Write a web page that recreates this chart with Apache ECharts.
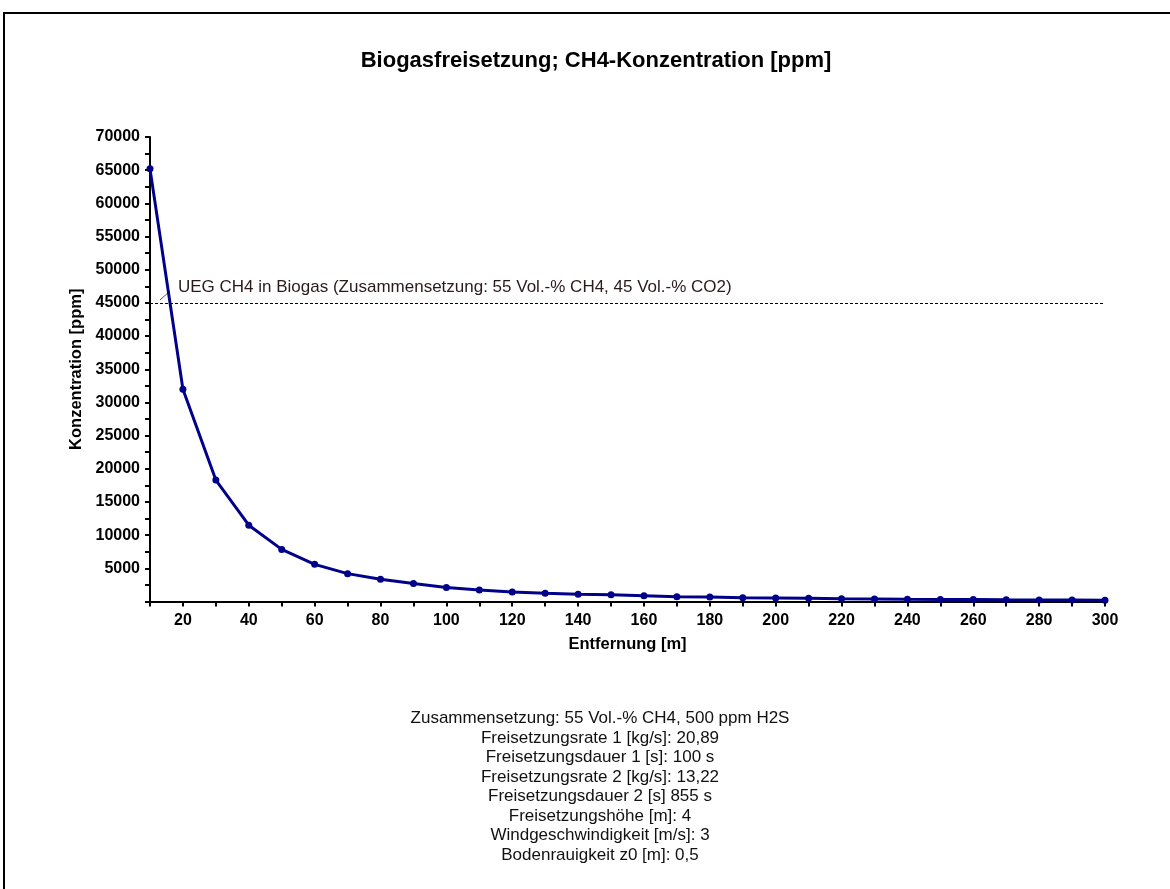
<!DOCTYPE html>
<html>
<head>
<meta charset="utf-8">
<script src="https://cdn.jsdelivr.net/npm/echarts@6/dist/echarts.min.js"></script>
<style>
  html, body { margin: 0; padding: 0; background: #fff; }
  #chart { width: 1170px; height: 889px; }
</style>
</head>
<body>
<div id="chart"></div>
<script>
// Entfernung [m]
const distances = [10, 20, 30, 40, 50, 60, 70, 80, 90, 100, 110, 120, 130, 140, 150,
  160, 170, 180, 190, 200, 210, 220, 230, 240, 250, 260, 270, 280, 290, 300]
// CH4-Konzentration [ppm]
const concentration = [65200, 32000, 18300, 11500, 7850, 5600, 4200, 3350, 2700, 2100,
  1750, 1450, 1250, 1100, 1000, 880, 700, 680, 560, 530, 480, 400, 370, 340, 320, 300,
  260, 240, 220, 200]
const uegValue = 45000
const uegLabel = 'UEG CH4 in Biogas (Zusammensetzung: 55 Vol.-% CH4, 45 Vol.-% CO2)'
const infoLines = [
  'Zusammensetzung: 55 Vol.-% CH4, 500 ppm H2S',
  'Freisetzungsrate 1 [kg/s]: 20,89',
  'Freisetzungsdauer 1 [s]: 100 s',
  'Freisetzungsrate 2 [kg/s]: 13,22',
  'Freisetzungsdauer 2 [s] 855 s',
  'Freisetzungshöhe [m]: 4',
  'Windgeschwindigkeit [m/s]: 3',
  'Bodenrauigkeit z0 [m]: 0,5'
]

const font = 'Arial, "Liberation Sans", sans-serif'
const chart = echarts.init(document.getElementById('chart'))

const option = {
  animation: false,
  textStyle: { fontFamily: font },
  title: {
    text: 'Biogasfreisetzung; CH4-Konzentration [ppm]',
    left: 591,
    top: 45,
    textAlign: 'center',
    textStyle: { fontSize: 22, fontWeight: 'bold', color: '#000', fontFamily: font }
  },
  grid: { left: 150, right: 65, top: 137, bottom: 287.5 },
  xAxis: {
    type: 'value',
    min: 10,
    max: 300,
    interval: 10,
    name: 'Entfernung [m]',
    nameLocation: 'middle',
    nameGap: 34,
    nameTextStyle: { fontSize: 16.5, fontWeight: 'bold', color: '#000', fontFamily: font },
    axisLine: { lineStyle: { color: '#000', width: 2 } },
    axisTick: { show: true, length: 5, lineStyle: { color: '#000', width: 2 } },
    axisLabel: {
      margin: 11,
      fontSize: 16,
      fontWeight: 'bold',
      color: '#000',
      formatter: v => (v % 20 === 0 ? String(v) : '')
    },
    splitLine: { show: false }
  },
  yAxis: {
    type: 'value',
    min: 0,
    max: 70000,
    interval: 2500,
    name: 'Konzentration [ppm]',
    nameLocation: 'middle',
    nameRotate: 90,
    nameGap: 65,
    nameTextStyle: { fontSize: 16.5, fontWeight: 'bold', color: '#000', fontFamily: font },
    axisLine: { show: true, lineStyle: { color: '#000', width: 2 } },
    axisTick: { show: true, length: 5, lineStyle: { color: '#000', width: 2 } },
    axisLabel: {
      margin: 10,
      fontSize: 16,
      fontWeight: 'bold',
      color: '#000',
      formatter: v => (v > 0 && v % 5000 === 0 ? String(v) : '')
    },
    splitLine: { show: false }
  },
  series: [{
    type: 'line',
    data: distances.map((d, i) => [d, concentration[i]]),
    symbol: 'circle',
    symbolSize: 7,
    lineStyle: { color: '#00008b', width: 3 },
    itemStyle: { color: '#00008b' },
    markLine: {
      silent: true,
      symbol: 'none',
      lineStyle: { color: '#000', type: [3, 2], width: 1 },
      label: {
        position: 'insideStartTop',
        distance: [28, 7],
        formatter: uegLabel,
        fontSize: 17,
        color: '#2a1a1a',
        fontFamily: font
      },
      data: [{ yAxis: uegValue }]
    }
  }],
  graphic: [
    {
      type: 'rect',
      shape: { x: 4, y: 13, width: 1250, height: 1000 },
      style: { fill: 'none', stroke: '#000', lineWidth: 2 },
      silent: true
    },
    {
      type: 'line',
      shape: { x1: 160, y1: 300, x2: 170, y2: 291 },
      style: { stroke: '#555', lineWidth: 1 },
      silent: true
    },
    {
      type: 'text',
      x: 600,
      y: 709,
      style: {
        text: infoLines.join('\n'),
        textAlign: 'center',
        fontSize: 17,
        lineHeight: 19.5,
        fill: '#111',
        fontFamily: font
      }
    }
  ]
}

chart.setOption(option)
</script>
</body>
</html>
